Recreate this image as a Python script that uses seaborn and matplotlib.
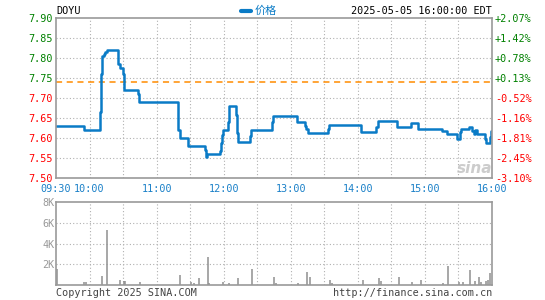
import matplotlib
matplotlib.use("Agg")
import matplotlib.pyplot as plt
import seaborn as sns
import pandas as pd
import numpy as np

# ---------------- data ----------------
symbol = "DOYU"
timestamp = "2025-05-05 16:00:00 EDT"
prev_close = 7.74

# price step breakpoints: minutes after 09:30, price
price_minutes = [0, 25, 39.5, 40.5, 41.5, 42.5, 44, 45.5, 55.5, 57, 59.5, 60.5, 73, 74.5,
                 109, 109.5, 110.5, 118.5, 133, 134, 135.5, 146.5, 147.5, 148.5, 149.5,
                 153.5, 154.5, 155, 161, 162, 163, 173.5, 174.5, 193.5, 194.5, 215.5,
                 223, 224, 225, 243, 244, 272.5, 286.5, 288, 305, 317.5, 324, 345.5,
                 349.5, 358.5, 361.5, 362.5, 369, 372.5, 373.5, 375, 377, 379.5, 384,
                 385, 388, 389, 390]
price_values = [7.63, 7.62, 7.665, 7.76, 7.805, 7.81, 7.815, 7.82, 7.785, 7.775, 7.76, 7.72,
                7.71, 7.69, 7.665, 7.62, 7.60, 7.58, 7.57, 7.553, 7.56, 7.567, 7.587, 7.607,
                7.62, 7.64, 7.665, 7.68, 7.657, 7.613, 7.59, 7.605, 7.62, 7.64, 7.655, 7.64,
                7.63, 7.622, 7.613, 7.622, 7.633, 7.615, 7.628, 7.643, 7.628, 7.638, 7.622,
                7.618, 7.61, 7.598, 7.614, 7.622, 7.628, 7.617, 7.61, 7.619, 7.609, 7.61,
                7.598, 7.588, 7.603, 7.618, 7.618]

# volume bars: minutes after 09:30, shares
volume_minutes = [1, 25.3, 27, 41.4, 45.9, 57.5, 60.5, 61.3, 75.4, 111, 121, 123.7, 127.6,
                  135.6, 137, 149.6, 155, 163, 175.6, 195.3, 197, 216.7, 224.8, 227.5,
                  245.4, 247.2, 274.9, 289.2, 291, 307, 318.7, 326.8, 346.5, 351, 360.8,
                  364.4, 370.6, 375, 378.7, 380.5, 385, 386.8, 388.5]
volume_values = [1590, 290, 290, 860, 5300, 480, 380, 380, 290, 950, 290, 190, 670,
                 2670, 190, 290, 190, 670, 1520, 760, 190, 190, 1240, 730,
                 480, 190, 480, 670, 380, 760, 290, 480, 190, 1810, 290,
                 290, 1430, 380, 760, 290, 380, 480, 1140]

price_ticks = [7.50, 7.55, 7.60, 7.65, 7.70, 7.75, 7.80, 7.85, 7.90]
pct_labels = ["-3.10%", "-2.45%", "-1.81%", "-1.16%", "-0.52%", "+0.13%", "+0.78%", "+1.42%", "+2.07%"]
time_tick_minutes = [0, 30, 90, 150, 210, 270, 330, 390]
time_tick_labels = ["09:30", "10:00", "11:00", "12:00", "13:00", "14:00", "15:00", "16:00"]
volume_ticks = [2000, 4000, 6000, 8000]
volume_tick_labels = ["2K", "4K", "6K", "8K"]

# ---------------- style ----------------
sns.set_theme(style="white")
plt.rcParams['font.family'] = ['DejaVu Sans Mono']
MONO = 'DejaVu Sans Mono'
FS = 7.3
LINE_BLUE = '#0a7bc6'
GRID = '#b0b0b0'
SPINE = '#999999'
GREEN = '#008000'
RED = '#ff0000'
TICK_BLUE = '#1a80c8'

W, H = 545, 300
fig = plt.figure(figsize=(W / 100, H / 100), dpi=100)
fig.patch.set_facecolor('white')

def fx(px):
    return px / W

def fy(py):
    return 1 - py / H

L, R = 56, 492
ax = fig.add_axes([fx(L), fy(178), fx(R - L), (178 - 18) / H])
axv = fig.add_axes([fx(L), fy(285), fx(R - L), (285 - 202) / H])

df = pd.DataFrame({"minute": price_minutes, "price": price_values})
sns.lineplot(data=df, x="minute", y="price", ax=ax, color=LINE_BLUE, linewidth=1.8,
             drawstyle='steps-post', estimator=None, sort=False)
ax.axhline(prev_close, color='#ff8c00', linestyle=(0, (4, 3)), linewidth=1.1, zorder=1)

ax.set_xlim(0, 390)
ax.set_ylim(7.50, 7.90)
ax.set_xlabel("")
ax.set_ylabel("")
ax.set_xticks(time_tick_minutes)
ax.set_xticklabels(time_tick_labels)
ax.set_yticks(price_ticks)
ax.set_yticklabels([f"{v:.2f}" for v in price_ticks])
for lbl, v in zip(ax.get_yticklabels(), price_ticks):
    lbl.set_color(GREEN if v > prev_close else RED)
for lbl in ax.get_xticklabels():
    lbl.set_color(TICK_BLUE)
ax.tick_params(axis='both', length=0, labelsize=FS, pad=2)
ax.tick_params(axis='x', pad=4)

for m in range(30, 390, 30):
    ax.axvline(m, color=GRID, linestyle=(0, (1, 2)), linewidth=0.8, zorder=0)
for v in price_ticks[1:-1]:
    ax.axhline(v, color=GRID, linestyle=(0, (1, 2)), linewidth=0.8, zorder=0)
for s in ax.spines.values():
    s.set_color(SPINE)
    s.set_linewidth(1.2)

ax2 = ax.twinx()
ax2.set_ylim(7.50, 7.90)
ax2.set_yticks(price_ticks)
ax2.set_yticklabels(pct_labels)
for lbl, v in zip(ax2.get_yticklabels(), price_ticks):
    lbl.set_color(GREEN if v > prev_close else RED)
ax2.tick_params(axis='y', length=0, labelsize=FS, pad=2)
for s in ax2.spines.values():
    s.set_visible(False)

# volume
axv.vlines(volume_minutes, 0, volume_values, color='#909090', linewidth=1.1)
axv.set_xlim(0, 390)
axv.set_ylim(0, 8000)
axv.set_xticks([])
axv.set_yticks(volume_ticks)
axv.set_yticklabels(volume_tick_labels)
for lbl in axv.get_yticklabels():
    lbl.set_color('#999999')
axv.tick_params(axis='y', length=0, labelsize=FS, pad=1)
for m in range(30, 390, 30):
    axv.axvline(m, color=GRID, linestyle=(0, (1, 2)), linewidth=0.8, zorder=0)
for v in volume_ticks[:-1]:
    axv.axhline(v, color=GRID, linestyle=(0, (1, 2)), linewidth=0.8, zorder=0)
for s in axv.spines.values():
    s.set_color(SPINE)
    s.set_linewidth(1.2)

# header / footer texts
fig.text(fx(56), fy(11), symbol, fontsize=FS, color='black', family=MONO, va='center', ha='left')
fig.text(fx(492), fy(11), timestamp, fontsize=FS, color='black', family=MONO, va='center', ha='right')
fig.add_artist(plt.Line2D([fx(241), fx(251)], [fy(10.5), fy(10.5)], color=LINE_BLUE, linewidth=3))
fig.text(fx(255), fy(11), "价格", fontsize=8, color=LINE_BLUE,
         family=['Noto Sans CJK SC', 'DejaVu Sans'], va='center', ha='left')
fig.text(fx(56), fy(293), "Copyright 2025 SINA.COM", fontsize=FS, color='#444444', family=MONO,
         va='center', ha='left')
fig.text(fx(492), fy(293), "http://finance.sina.com.cn", fontsize=FS, color='#444444', family=MONO,
         va='center', ha='right')
fig.text(fx(475), fy(168), "sina", fontsize=11, color='#c0c0c0', style='italic', weight='bold',
         family='DejaVu Sans', va='center', ha='center', alpha=0.8)

fig.savefig("out.png", dpi=100, facecolor='white')
